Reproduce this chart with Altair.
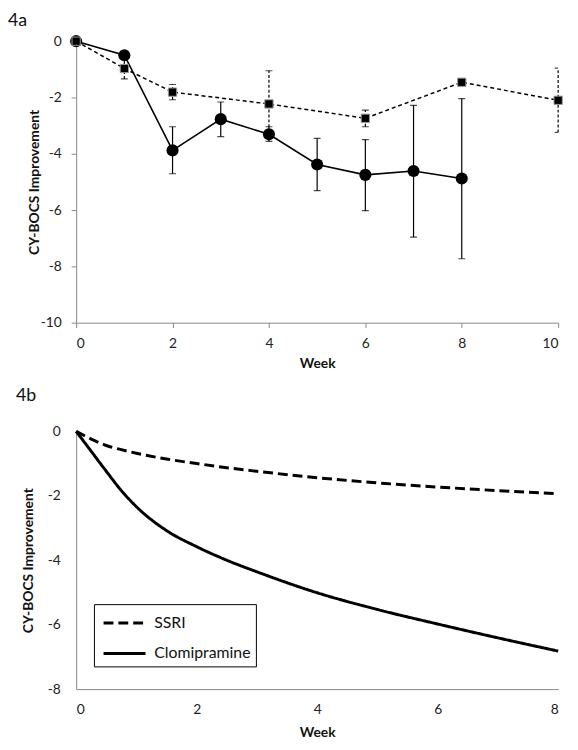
import altair as alt
import pandas as pd

# ---------- Panel 4a data ----------
clomi_weeks = [0, 1, 2, 3, 4, 5, 6, 7, 8]
clomi_mean = [0, -0.50, -3.88, -2.77, -3.31, -4.38, -4.75, -4.61, -4.88]
clomi_err_weeks = [2, 3, 4, 5, 6, 7, 8]
clomi_hi = [-3.04, -2.16, -3.04, -3.45, -3.50, -2.28, -2.04]
clomi_lo = [-4.71, -3.39, -3.56, -5.31, -6.02, -6.96, -7.73]

ssri_weeks = [0, 1, 2, 4, 6, 8, 10]
ssri_mean = [0, -0.97, -1.81, -2.23, -2.74, -1.46, -2.10]
ssri_err_weeks = [1, 2, 4, 6, 10]
ssri_hi = [-0.60, -1.54, -1.05, -2.45, -0.96]
ssri_lo = [-1.34, -2.08, -3.41, -3.04, -3.24]

# ---------- Panel 4b data ----------
b_weeks = [0, 0.25, 0.5, 0.75, 1, 1.5, 2, 2.5, 3, 4, 5, 6, 7, 8]
ssri_b = [0, -0.24, -0.44, -0.57, -0.68, -0.86, -1.0, -1.13, -1.24, -1.44, -1.60, -1.73, -1.84, -1.94]
clomi_b = [0, -0.62, -1.24, -1.84, -2.34, -3.08, -3.58, -4.0, -4.36, -5.01, -5.53, -5.98, -6.41, -6.82]
series_names = ["SSRI", "Clomipramine"]

FONT = "Lato"
GREY = "#868686"
LABEL_EXPR = "toString(datum.value)"

clomi_df = pd.DataFrame({"week": clomi_weeks, "val": clomi_mean})
ssri_df = pd.DataFrame({"week": ssri_weeks, "val": ssri_mean})
clomi_err = pd.DataFrame({"week": clomi_err_weeks, "lo": clomi_lo, "hi": clomi_hi})
ssri_err = pd.DataFrame({"week": ssri_err_weeks, "lo": ssri_lo, "hi": ssri_hi})
clomi_caps = pd.DataFrame({"week": clomi_err_weeks * 2, "v": clomi_lo + clomi_hi})
ssri_caps = pd.DataFrame({"week": ssri_err_weeks * 2, "v": ssri_lo + ssri_hi})

W = 488
H1 = 285
H2 = 261

xa = alt.X("week:Q", scale=alt.Scale(domain=[0, 10], nice=False),
           axis=alt.Axis(values=[0, 2, 4, 6, 8, 10], title="Week", grid=False,
                         domainColor=GREY, tickColor=GREY, tickSize=5,
                         labelPadding=9, titlePadding=6, labelFontSize=14,
                         titleFontSize=14, labelColor="#222", titleColor="#111",
                         labelFont=FONT, titleFont=FONT, titleFontWeight="bold",
                         labelExpr=LABEL_EXPR))
ya_axis = alt.Axis(values=[0, -2, -4, -6, -8, -10], title="CY-BOCS Improvement", grid=False,
                   domainColor=GREY, tickColor=GREY, tickSize=5, labelPadding=10,
                   labelFontSize=14, titleFontSize=14, labelColor="#222", titleColor="#111",
                   labelFont=FONT, titleFont=FONT, titleFontWeight="bold",
                   titleX=-35, titleY=H1 / 2, labelExpr=LABEL_EXPR)
yscale = alt.Scale(domain=[-10, 0], nice=False)

ssri_rule = alt.Chart(ssri_err).mark_rule(color="black", strokeWidth=1.2, strokeDash=[3, 2]).encode(
    x=xa, y=alt.Y("lo:Q", scale=yscale, axis=ya_axis), y2="hi:Q")
ssri_cap = alt.Chart(ssri_caps).mark_tick(color="black", size=7, thickness=1.2, orient="horizontal", clip=True).encode(
    x="week:Q", y=alt.Y("v:Q", scale=yscale))
clomi_rule = alt.Chart(clomi_err).mark_rule(color="black", strokeWidth=1.2).encode(
    x="week:Q", y=alt.Y("lo:Q", scale=yscale), y2="hi:Q")
clomi_cap = alt.Chart(clomi_caps).mark_tick(color="black", size=7, thickness=1.2, orient="horizontal", clip=True).encode(
    x="week:Q", y=alt.Y("v:Q", scale=yscale))
clomi_line = alt.Chart(clomi_df).mark_line(color="black", strokeWidth=1.6).encode(
    x="week:Q", y=alt.Y("val:Q", scale=yscale))
clomi_pts = alt.Chart(clomi_df).mark_circle(color="black", size=150, opacity=1).encode(
    x="week:Q", y=alt.Y("val:Q", scale=yscale))
ssri_line = alt.Chart(ssri_df).mark_line(color="black", strokeWidth=1.5, strokeDash=[4, 3]).encode(
    x="week:Q", y=alt.Y("val:Q", scale=yscale))
ssri_pts = alt.Chart(ssri_df).mark_square(color="black", size=70, opacity=1, stroke="#999", strokeWidth=1).encode(
    x="week:Q", y=alt.Y("val:Q", scale=yscale))

top = alt.layer(ssri_rule, ssri_cap, clomi_rule, clomi_cap, clomi_line, clomi_pts, ssri_line, ssri_pts).properties(
    width=W, height=H1,
    title=alt.TitleParams("4a", anchor="start", frame="group", dx=-69, fontSize=18,
                          fontWeight="normal", font=FONT, color="#111", offset=4))

# ---------- bottom ----------
long_rows = []
for w, s, c in zip(b_weeks, ssri_b, clomi_b):
    long_rows.append({"week": w, "val": s, "series": series_names[0]})
    long_rows.append({"week": w, "val": c, "series": series_names[1]})
bdf = pd.DataFrame(long_rows)

# legend is positioned relative to the first panel's plot area (shared legend of the concat)
LEG_X = 18
LEG_Y = 178 + (430 - 38)

bottom = alt.Chart(bdf).mark_line(color="black", strokeWidth=3, interpolate="monotone").encode(
    x=alt.X("week:Q", scale=alt.Scale(domain=[0, 8], nice=False),
            axis=alt.Axis(values=[0, 2, 4, 6, 8], title="Week", grid=False, ticks=False,
                          domainColor=GREY, labelPadding=14, titlePadding=9,
                          labelFontSize=14, titleFontSize=14, labelColor="#222",
                          titleColor="#111", labelFont=FONT, titleFont=FONT,
                          titleFontWeight="bold", labelExpr=LABEL_EXPR)),
    y=alt.Y("val:Q", scale=alt.Scale(domain=[-8, 0], nice=False),
            axis=alt.Axis(values=[0, -2, -4, -6, -8], title="CY-BOCS Improvement", grid=False,
                          ticks=False, domainColor=GREY, labelPadding=16,
                          labelFontSize=14, titleFontSize=14, labelColor="#222",
                          titleColor="#111", labelFont=FONT, titleFont=FONT,
                          titleFontWeight="bold", titleX=-41, titleY=H2 / 2,
                          labelExpr=LABEL_EXPR)),
    strokeDash=alt.StrokeDash("series:N",
                              scale=alt.Scale(domain=series_names, range=[[10, 5], [1, 0]]),
                              legend=alt.Legend(title=None, orient="none", legendX=LEG_X, legendY=LEG_Y,
                                                strokeColor="black", padding=5, rowPadding=9,
                                                symbolType="M-1.7,0L1.7,0", symbolSize=625,
                                                symbolStrokeWidth=3, symbolStrokeColor="black",
                                                symbolOffset=12, labelOffset=16,
                                                labelFontSize=16, labelFont=FONT,
                                                labelColor="#111")),
    order=alt.Order("week:Q"),
).properties(
    width=W, height=H2,
    title=alt.TitleParams("4b", anchor="start", frame="group", dx=-61, fontSize=18,
                          fontWeight="normal", font=FONT, color="#111", offset=20))

chart = alt.vconcat(top, bottom, spacing=17).properties(
    padding={"left": 0, "top": 0, "right": 5, "bottom": 0}
).configure_view(stroke=None)

chart.save("out.html", embed_options={"renderer": "svg", "actions": False})
